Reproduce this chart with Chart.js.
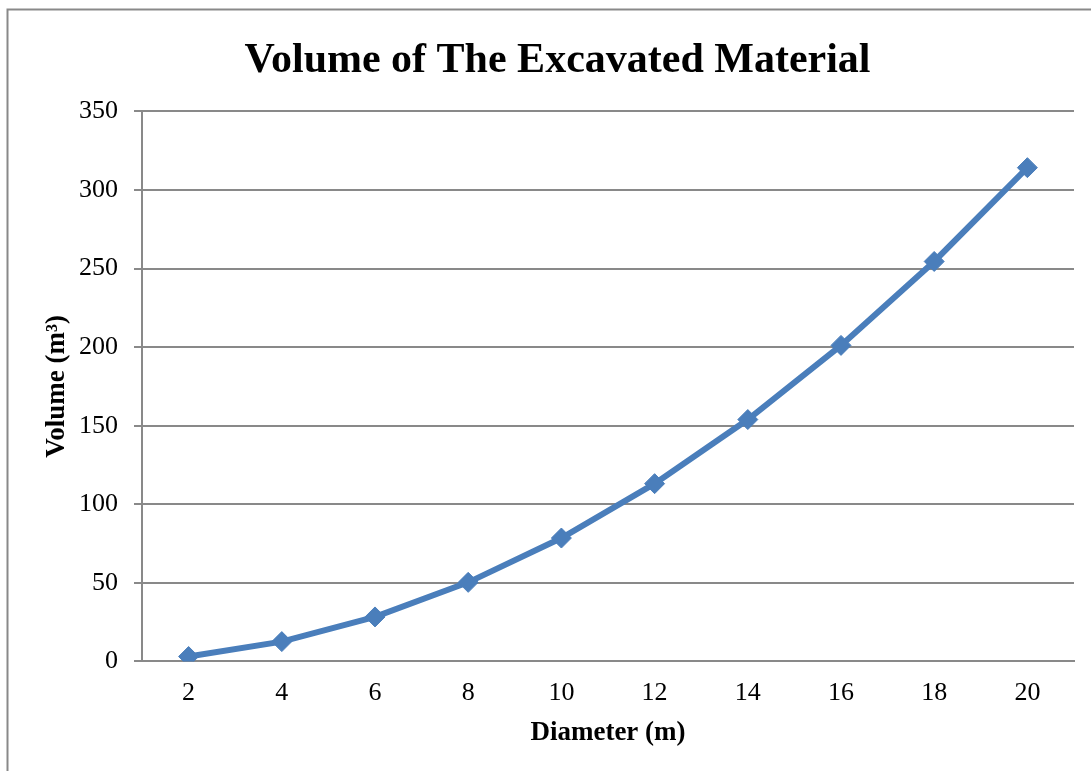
<!DOCTYPE html>
<html lang="en">
<head>
  <meta charset="UTF-8">
  <title>Volume of The Excavated Material</title>
  <script src="https://cdn.jsdelivr.net/npm/chart.js"></script>
  <style>
    html, body {
      margin: 0;
      padding: 0;
      background: #fff;
    }
    #wrap {
      width: 1091px;
      height: 771px;
    }
  </style>
</head>
<body>
  <div id="wrap"><canvas id="myChart" width="1091" height="771"></canvas></div>

  <script>
    // Data
    const diameters = ['2', '4', '6', '8', '10', '12', '14', '16', '18', '20'];
    const volumes = [3.1, 12.6, 28.3, 50.3, 78.5, 113.1, 153.9, 201.1, 254.5, 314.2];
    const yTicks = [0, 50, 100, 150, 200, 250, 300, 350];

    const serif = '"Liberation Serif", "Times New Roman", serif';
    const grey = '#898989';

    // outer frame (only left and top edges are visible)
    const framePlugin = {
      id: 'frame',
      beforeDraw(chart) {
        const c = chart.ctx;
        c.save();
        c.strokeStyle = grey;
        c.lineWidth = 2;
        c.beginPath();
        c.moveTo(7.5, 771);
        c.lineTo(7.5, 9.5);
        c.lineTo(1091, 9.5);
        c.stroke();
        c.restore();
      }
    };

    const ctx = document.getElementById('myChart').getContext('2d');
    new Chart(ctx, {
      type: 'line',
      data: {
        labels: diameters,
        datasets: [{
          label: 'Volume',
          data: volumes,
          borderColor: '#4a7ebb',
          backgroundColor: '#4a7ebb',
          borderWidth: 6,
          pointStyle: 'rectRot',
          pointRadius: 10,
          pointHoverRadius: 10,
          pointBorderWidth: 1,
          tension: 0
        }]
      },
      options: {
        responsive: false,
        animation: false,
        layout: {
          padding: { left: 41, right: 17, top: 36, bottom: 22 }
        },
        plugins: {
          legend: { display: false },
          tooltip: { enabled: false },
          title: {
            display: true,
            text: 'Volume of The Excavated Material',
            color: '#000',
            font: { family: serif, size: 42, weight: 'bold' },
            padding: { top: 0, bottom: 25 }
          }
        },
        scales: {
          x: {
            offset: true,
            grid: { display: false },
            border: { display: true, color: grey, width: 2 },
            ticks: {
              color: '#000',
              font: { family: serif, size: 26 },
              padding: 8
            },
            title: {
              display: true,
              text: 'Diameter (m)',
              color: '#000',
              font: { family: serif, size: 27, weight: 'bold' },
              padding: { top: 0, bottom: 0 }
            }
          },
          y: {
            min: 0,
            max: 350,
            afterBuildTicks(axis) {
              axis.ticks = yTicks.map(v => ({ value: v }));
            },
            afterFit(axis) {
              axis.width = 101;
            },
            grid: {
              color: grey,
              lineWidth: 2,
              tickLength: 8,
              drawTicks: true
            },
            border: { display: true, color: grey, width: 2 },
            ticks: {
              color: '#000',
              font: { family: serif, size: 26 },
              padding: 16
            },
            title: {
              display: true,
              text: 'Volume (m³)',
              color: '#000',
              font: { family: serif, size: 27, weight: 'bold' },
              padding: { top: 0, bottom: 0 }
            }
          }
        }
      },
      plugins: [framePlugin]
    });
  </script>
</body>
</html>
